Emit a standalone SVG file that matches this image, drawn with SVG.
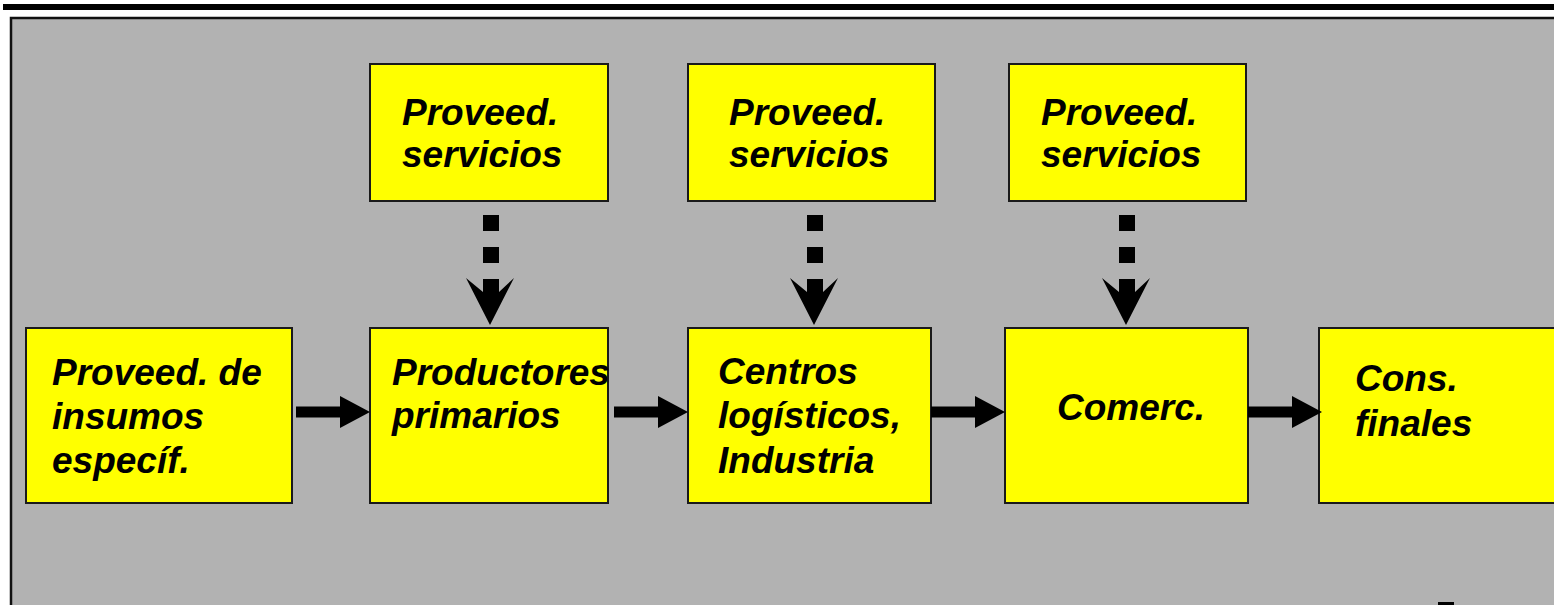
<svg xmlns="http://www.w3.org/2000/svg" width="1554" height="605" viewBox="0 0 1554 605">
  <style>
    .box { fill: #ffff00; stroke: #1a1a1a; stroke-width: 2; }
    .lbl { font-family: "Liberation Sans", Arial, sans-serif; font-size: 37px; font-weight: bold; font-style: italic; fill: #000; }
    .ink { fill: #000; }
  </style>
  <defs>
    <!-- horizontal block arrow, tip at origin -->
    <path id="harrow" d="M-74,-5.5 H-30 V-16 L0,0 L-30,16 V5.5 H-74 Z"/>
    <!-- dotted vertical arrow, tip at origin -->
    <g id="varrow">
      <rect x="-7" y="-110" width="16" height="16"/>
      <rect x="-7" y="-78" width="16" height="16"/>
      <path d="M-7,-46 H9 V-33 L24,-47 L0,0 L-24,-47 L-7,-33 Z"/>
    </g>
  </defs>

  <rect x="0" y="0" width="1554" height="605" fill="#ffffff"/>
  <!-- heading rule -->
  <rect x="3" y="4" width="1551" height="6" fill="#000"/>
  <!-- slide panel -->
  <rect x="11" y="18" width="1560" height="600" fill="#b2b2b2" stroke="#111" stroke-width="2.5"/>

  <!-- supplier row -->
  <g id="srv1">
    <rect class="box" x="370" y="64" width="238" height="137"/>
    <text class="lbl" x="402" y="125">Proveed.</text>
    <text class="lbl" x="402" y="167">servicios</text>
  </g>
  <g id="srv2">
    <rect class="box" x="688" y="64" width="247" height="137"/>
    <text class="lbl" x="729" y="125">Proveed.</text>
    <text class="lbl" x="729" y="167">servicios</text>
  </g>
  <g id="srv3">
    <rect class="box" x="1009" y="64" width="237" height="137"/>
    <text class="lbl" x="1041" y="125">Proveed.</text>
    <text class="lbl" x="1041" y="167">servicios</text>
  </g>

  <!-- chain row -->
  <g id="insumos">
    <rect class="box" x="26" y="328" width="266" height="175"/>
    <text class="lbl" x="52" y="385">Proveed. de</text>
    <text class="lbl" x="52" y="429">insumos</text>
    <text class="lbl" x="52" y="473">específ.</text>
  </g>
  <g id="productores">
    <rect class="box" x="370" y="328" width="238" height="175"/>
    <text class="lbl" x="392" y="385">Productores</text>
    <text class="lbl" x="392" y="428">primarios</text>
  </g>
  <g id="centros">
    <rect class="box" x="688" y="328" width="243" height="175"/>
    <text class="lbl" x="718" y="384">Centros</text>
    <text class="lbl" x="718" y="428">logísticos,</text>
    <text class="lbl" x="718" y="473">Industria</text>
  </g>
  <g id="comerc">
    <rect class="box" x="1005" y="328" width="243" height="175"/>
    <text class="lbl" x="1057" y="420">Comerc.</text>
  </g>
  <g id="consumo">
    <rect class="box" x="1319" y="328" width="260" height="175"/>
    <text class="lbl" x="1355" y="391">Cons.</text>
    <text class="lbl" x="1355" y="436">finales</text>
  </g>

  <g id="connectors" class="ink">
    <use href="#harrow" x="370" y="412"/>
    <use href="#harrow" x="688" y="412"/>
    <use href="#harrow" x="1005" y="412"/>
    <use href="#harrow" x="1322" y="412"/>
    <use href="#varrow" x="490" y="325"/>
    <use href="#varrow" x="814" y="325"/>
    <use href="#varrow" x="1126" y="325"/>
  </g>

  <!-- footer mark -->
  <rect x="1438" y="602" width="16" height="4" fill="#000"/>
</svg>
